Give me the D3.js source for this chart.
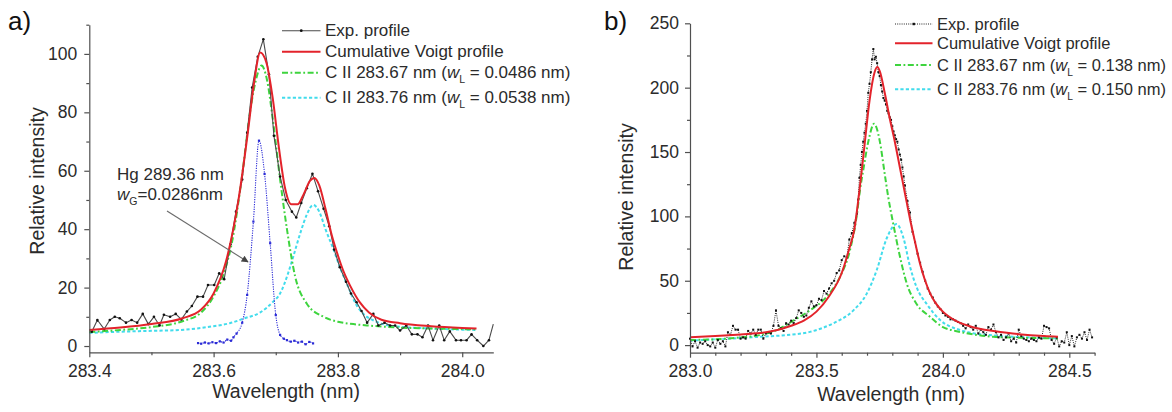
<!DOCTYPE html>
<html>
<head>
<meta charset="utf-8">
<script src="https://cdn.jsdelivr.net/npm/d3@7"></script>
<style>
  body { margin: 0; background: #fff; }
  svg { display: block; font-family: "Liberation Sans", Arial, Helvetica, sans-serif; }
</style>
</head>
<body>
<svg id="chart" width="1172" height="412"></svg>
<script>
// ---------- Panel a: C II doublet, narrow lines ----------
const expA = [
  [283.404,4.9],[283.413,8.9],[283.424,5.8],[283.433,8.9],[283.441,10],[283.449,9.5],[283.459,8],
  [283.468,8.9],[283.477,8],[283.486,11],[283.495,7.5],[283.504,10],[283.513,7],[283.520,10.7],
  [283.530,10],[283.539,11],[283.548,9.1],[283.557,11.8],[283.565,13.7],[283.574,16.9],[283.583,16.9],
  [283.591,20.9],[283.601,20.9],[283.609,24.9],[283.617,22.9],[283.627,34.8],[283.636,46],[283.646,57],
  [283.654,73],[283.662,88.5],[283.671,99],[283.680,105],[283.689,93],[283.697,72],[283.707,58],
  [283.716,50],[283.726,46],[283.733,44],[283.741,49],[283.750,54],[283.759,59],[283.768,53],
  [283.777,47],[283.786,41],[283.794,33],[283.803,27],[283.813,22],[283.821,18],[283.830,15],
  [283.838,12],[283.847,8],[283.857,11],[283.865,7],[283.875,8],[283.884,7],[283.892,7],[283.900,5.3],
  [283.910,7],[283.919,4],[283.928,4],[283.936,3],[283.945,7],[283.953,2],[283.963,7],[283.971,2],
  [283.980,5],[283.990,2],[283.998,2],[284.007,2],[284.015,4],[284.024,2],[284.034,0],[284.043,2]
];
const expATail = [[284.043,2],[284.050,7.5]];

const voigtA = [
  [283.400,5.5],[283.45,6.3],[283.50,7.5],[283.55,9.5],[283.58,12.5],[283.60,18],[283.62,29],
  [283.64,50],[283.655,73],[283.665,90],[283.675,100.5],[283.685,97],[283.695,85],[283.705,68],
  [283.715,54],[283.725,48.5],[283.735,48.5],[283.745,52],[283.755,56.5],[283.762,57.5],[283.77,55],
  [283.78,47],[283.79,38],[283.80,31],[283.81,25],[283.82,20.5],[283.835,15],[283.85,11.5],
  [283.87,9],[283.90,7.8],[283.95,6.8],[284.00,6.2],[284.023,6]
];

const line1A = [
  [283.400,4.8],[283.45,5.5],[283.50,6.5],[283.55,8.5],[283.58,11.5],[283.60,17],[283.615,24],
  [283.63,36],[283.645,57],[283.66,82],[283.668,91],[283.677,96],[283.686,91],[283.695,78],
  [283.707,57],[283.718,40],[283.731,24],[283.75,14.5],[283.777,10],[283.80,8.3],[283.825,7.5],
  [283.85,7],[283.90,6.3],[283.95,6],[284.00,5.8],[284.023,5.7]
];

const line2A = [
  [283.400,4.5],[283.45,4.9],[283.50,5.2],[283.546,5.5],[283.60,6.8],[283.626,7.8],[283.65,9.5],
  [283.675,11.5],[283.695,15],[283.707,18],[283.72,25],[283.728,30.5],[283.74,39],[283.75,45],
  [283.76,48.3],[283.77,46],[283.78,40],[283.793,33],[283.805,26],[283.814,21.5],[283.83,14],
  [283.841,11],[283.86,8.5],[283.889,6.8],[283.95,6],[284.00,5.6],[284.023,5.5]
];

const hgA = [
  [283.575,1.0],[283.580,0.8],[283.586,1.2],[283.592,0.9],[283.598,1.3],[283.604,1.0],[283.610,1.6],
  [283.616,1.2],[283.622,2.2],[283.628,1.8],[283.632,3.0],[283.637,4.3],[283.646,8],[283.654,17.5],
  [283.664,42.6],[283.673,70.3],[283.682,58.9],[283.691,35.2],[283.700,10.6],[283.707,3.8],
  [283.713,2.5],[283.718,2.0],[283.724,1.5],[283.730,1.8],[283.736,1.2],[283.742,1.5],[283.748,0.6],
  [283.754,1.4],[283.760,0.9]
];

// ---------- Panel b: C II doublet, broadened lines ----------
const expB = [
  [283.00,5],[283.01,-1],[283.02,3],[283.03,-2],[283.04,2],[283.05,1],[283.06,3],[283.07,0],[283.08,-1],
  [283.09,2],[283.10,-2],[283.11,4],[283.12,1],[283.13,3],[283.14,-1],[283.15,10],[283.16,8],[283.17,15],
  [283.18,12],[283.19,12],[283.20,5],[283.21,6],[283.22,5],[283.23,11],[283.24,9],[283.25,12],[283.26,8],
  [283.27,12],[283.28,12],[283.29,5],[283.30,9],[283.31,10],[283.32,9],[283.33,15],[283.34,27],[283.35,15],
  [283.36,13],[283.37,11],[283.38,17],[283.39,16],[283.40,19],[283.41,17],[283.42,21],[283.43,27],
  [283.44,25],[283.45,22],[283.46,23],[283.47,29],[283.48,34],[283.49,30],[283.50,31],[283.51,36],
  [283.52,35],[283.53,42],[283.54,40],[283.55,44],[283.56,48],[283.57,50],[283.58,56],[283.59,58],
  [283.60,66],[283.61,69],[283.62,68],[283.63,82],[283.64,87],[283.65,95],[283.66,102],[283.665,113],
  [283.67,130],[283.675,140],[283.68,150],[283.685,158],[283.69,165],[283.695,172],[283.70,182],
  [283.705,196],[283.71,203],[283.715,212],[283.72,222],[283.725,230],[283.73,222],[283.735,224],
  [283.74,219],[283.745,212],[283.75,209],[283.755,202],[283.76,197],[283.765,192],[283.77,190],
  [283.775,187],[283.78,182],[283.785,180],[283.79,177],[283.795,175],[283.80,170],[283.805,166],
  [283.81,163],[283.815,160],[283.82,158],[283.825,152],[283.83,148],[283.835,144],[283.84,138],
  [283.845,131],[283.85,124],[283.86,112],[283.87,103],[283.88,88],[283.89,80],[283.90,71],[283.91,64],
  [283.92,57],[283.93,50],[283.94,44],[283.95,40],[283.96,37],[283.97,33],[283.98,30],[283.99,28],
  [284.00,25],[284.01,23],[284.02,22],[284.03,20],[284.04,20],[284.05,19],[284.06,18],[284.07,17],
  [284.08,15],[284.09,13],[284.10,16],[284.11,14],[284.12,12],[284.13,15],[284.14,9],[284.15,12],
  [284.16,10],[284.17,8],[284.18,14],[284.19,12],[284.20,16],[284.21,10],[284.22,6],[284.23,8],
  [284.24,4],[284.25,6],[284.26,9],[284.27,3],[284.28,5],[284.29,2],[284.30,12],[284.31,7],[284.32,5],
  [284.33,4],[284.34,3],[284.35,5],[284.36,4],[284.37,3],[284.38,6],[284.39,5],[284.40,15],[284.41,14],
  [284.42,13],[284.43,4],[284.44,1],[284.45,6],[284.46,-1],[284.47,3],[284.48,2],[284.49,10],[284.50,0],
  [284.51,7],[284.52,-1],[284.53,6],[284.54,8],[284.55,5],[284.56,10],[284.57,4],[284.58,12],[284.59,6]
];

const voigtB = [
  [283.00,6],[283.10,7],[283.20,8.3],[283.30,10],[283.35,12],[283.40,15],[283.45,19],[283.50,26],
  [283.55,38],[283.60,56],[283.63,75],[283.65,90],[283.67,120],[283.69,155],[283.71,190],[283.73,212],
  [283.741,216],[283.75,213],[283.77,196],[283.79,176],[283.81,158],[283.83,138],[283.85,118],
  [283.87,98],[283.89,80],[283.91,63],[283.93,50],[283.95,40],[283.97,33],[284.00,26],[284.05,19],
  [284.10,15],[284.15,12.5],[284.20,11],[284.30,8.5],[284.40,7],[284.455,6.5]
];

const line1B = [
  [283.00,4],[283.10,4.5],[283.20,6],[283.277,7.8],[283.343,11.7],[283.408,19],[283.474,27],
  [283.54,37.5],[283.593,53],[283.633,74],[283.659,100],[283.672,120],[283.686,137],[283.705,158],
  [283.728,172],[283.75,159],[283.77,133],[283.784,115],[283.804,94],[283.83,69],[283.857,48],
  [283.896,32],[283.949,22],[284.00,14],[284.05,11],[284.10,9],[284.20,6.5],[284.30,5.8],[284.455,5.2]
];

const line2B = [
  [283.00,3.5],[283.10,4.5],[283.20,5.5],[283.277,6.5],[283.382,7.8],[283.474,10.3],[283.567,17],
  [283.646,27],[283.699,40],[283.738,58],[283.778,83],[283.817,94],[283.843,84],[283.87,61],
  [283.896,45],[283.936,32],[283.989,19.5],[284.068,11.7],[284.10,10],[284.20,7.5],[284.30,6.3],
  [284.455,5.2]
];

// ---------- Axis ticks ----------
const xMajorA = [283.4, 283.6, 283.8, 284.0];
const xMinorA = [283.5, 283.7, 283.9];
const yMajorA = [0, 20, 40, 60, 80, 100];
const yMinorA = [10, 30, 50, 70, 90, 110];
const xMajorB = [283.0, 283.5, 284.0, 284.5];
const xMinorB = [283.1, 283.2, 283.3, 283.4, 283.6, 283.7, 283.8, 283.9, 284.1, 284.2, 284.3, 284.4, 284.6];
const yMajorB = [0, 50, 100, 150, 200, 250];
const yMinorB = [25, 75, 125, 175, 225];

// ---------- Legend labels ----------
const legendA = ["Exp. profile", "Cumulative Voigt profile",
  ["C II 283.67 nm (", "0.0486 nm)"], ["C II 283.76 nm (", "0.0538 nm)"]];
const legendB = ["Exp. profile", "Cumulative Voigt profile",
  ["C II 283.67 nm (", "0.138 nm)"], ["C II 283.76 nm (", "0.150 nm)"]];

// ---------- Styles ----------
const C = {
  axis: "#505050", text: "#2b2b2b",
  exp: "#4a4a4a", red: "#e3232b", green: "#3ed43e", cyan: "#42dcec", blue: "#2a2ad6"
};
const styles = {
  expA:  { stroke: C.exp, width: 1.1, dash: null },
  expB:  { stroke: "#222", width: 1, dash: "1,1.2" },
  red:   { stroke: C.red, width: 2, dash: null },
  green: { stroke: C.green, width: 2, dash: "6,2.5,1.8,2.5" },
  cyan:  { stroke: C.cyan, width: 2, dash: "3.2,2.2" },
  blue:  { stroke: C.blue, width: 1.1, dash: "1.2,1.2" }
};

const svg = d3.select("#chart");

function drawAxes(g, x, y, xMaj, xMin, yMaj, yMin, xFmt, yPad) {
  const yBase = y.range()[0];
  const xBase = x.range()[0];
  // minor ticks
  g.append("g").attr("transform", `translate(0,${yBase})`)
    .call(d3.axisBottom(x).tickValues(xMin).tickSize(3).tickSizeOuter(0).tickFormat(""))
    .call(s => s.select(".domain").remove());
  g.append("g").attr("transform", `translate(${xBase},0)`)
    .call(d3.axisLeft(y).tickValues(yMin).tickSize(3).tickSizeOuter(0).tickFormat(""))
    .call(s => s.select(".domain").remove());
  // major ticks + labels
  g.append("g").attr("transform", `translate(0,${yBase})`)
    .call(d3.axisBottom(x).tickValues(xMaj).tickSize(5).tickPadding(7).tickSizeOuter(0).tickFormat(xFmt));
  g.append("g").attr("transform", `translate(${xBase},0)`)
    .call(d3.axisLeft(y).tickValues(yMaj).tickSize(5).tickPadding(yPad).tickSizeOuter(0).tickFormat(d3.format("d")));
  g.selectAll(".domain, .tick line").attr("stroke", C.axis).attr("stroke-width", 1.2);
  g.selectAll(".tick text").attr("fill", C.text).attr("font-size", 17.5)
    .attr("font-family", '"Liberation Sans", Arial, sans-serif');
}

function drawLine(g, data, x, y, st, curve) {
  const gen = d3.line().x(d => x(d[0])).y(d => y(d[1])).curve(curve || d3.curveLinear);
  g.append("path").datum(data).attr("d", gen)
    .attr("fill", "none").attr("stroke", st.stroke).attr("stroke-width", st.width)
    .attr("stroke-dasharray", st.dash).attr("stroke-linejoin", "round");
}

function drawLegend(g, labels, x0, x1, lineYs, fontSize, expSt, expMarker) {
  const sts = [expSt, styles.red, styles.green, styles.cyan];
  labels.forEach((lab, i) => {
    const ly = lineYs[i];
    g.append("line").attr("x1", x0).attr("x2", x1).attr("y1", ly).attr("y2", ly)
      .attr("stroke", sts[i].stroke).attr("stroke-width", sts[i].width)
      .attr("stroke-dasharray", sts[i].dash);
    if (i === 0) expMarker(g, (x0 + x1) / 2, ly);
    const t = g.append("text").attr("x", x1 + 4.5).attr("y", ly + 5.5)
      .attr("font-size", fontSize).attr("fill", C.text);
    if (typeof lab === "string") {
      t.text(lab);
    } else {
      t.append("tspan").text(lab[0]);
      t.append("tspan").attr("font-style", "italic").text("w");
      t.append("tspan").attr("dy", 5).attr("font-size", fontSize * 0.62).text("L");
      t.append("tspan").attr("dy", -5).text(" = " + lab[1]);
    }
  });
}

// ================= Panel a =================
{
  const g = svg.append("g");
  const x = d3.scaleLinear().domain([283.4, 284.05]).range([89.3, 493.3]);
  const y = d3.scaleLinear().domain([-2.15, 110]).range([352.3, 24.7]);

  drawLine(g, line2A, x, y, styles.cyan, d3.curveMonotoneX);
  drawLine(g, line1A, x, y, styles.green, d3.curveMonotoneX);
  drawLine(g, expA.concat(expATail.slice(1)), x, y, styles.expA);
  g.append("g").selectAll("circle").data(expA).join("circle")
    .attr("cx", d => x(d[0])).attr("cy", d => y(d[1])).attr("r", 1.3).attr("fill", "#111");
  drawLine(g, voigtA, x, y, styles.red, d3.curveMonotoneX);
  drawLine(g, hgA, x, y, styles.blue, d3.curveMonotoneX);
  g.append("g").selectAll("rect").data(hgA).join("rect")
    .attr("x", d => x(d[0]) - 1.1).attr("y", d => y(d[1]) - 1.1)
    .attr("width", 2.2).attr("height", 2.2).attr("fill", C.blue);

  drawAxes(g, x, y, xMajorA, xMinorA, yMajorA, yMinorA, d3.format(".1f"), 7);

  // Hg annotation with arrow
  const defs = svg.append("defs");
  defs.append("marker").attr("id", "arrowHead").attr("viewBox", "0 0 10 10")
    .attr("refX", 9).attr("refY", 5).attr("markerWidth", 9).attr("markerHeight", 7)
    .attr("markerUnits", "userSpaceOnUse").attr("orient", "auto")
    .append("path").attr("d", "M0,0 L10,5 L0,10 Z").attr("fill", "#444");
  g.append("line").attr("x1", 167).attr("y1", 211).attr("x2", 248).attr("y2", 262)
    .attr("stroke", "#6a6a6a").attr("stroke-width", 1.1).attr("marker-end", "url(#arrowHead)");
  g.append("text").attr("x", 117).attr("y", 180).attr("font-size", 17).attr("fill", C.text)
    .text("Hg 289.36 nm");
  const wt = g.append("text").attr("x", 117).attr("y", 200).attr("font-size", 17).attr("fill", C.text);
  wt.append("tspan").attr("font-style", "italic").text("w");
  wt.append("tspan").attr("dy", 5).attr("font-size", 10.5).text("G");
  wt.append("tspan").attr("dy", -5).text("=0.0286nm");

  // titles
  g.append("text").attr("transform", "translate(43.5,181) rotate(-90)").attr("text-anchor", "middle")
    .attr("font-size", 19.5).attr("fill", C.text).text("Relative intensity");
  g.append("text").attr("x", 286).attr("y", 398).attr("text-anchor", "middle")
    .attr("font-size", 19.5).attr("fill", C.text).text("Wavelength (nm)");
  g.append("text").attr("x", 8).attr("y", 30).attr("font-size", 26).attr("fill", "#111").text("a)");

  drawLegend(g, legendA, 282, 320.5, [30.7, 51.7, 72.7, 97.7], 17, styles.expA,
    (gg, cx, cy) => gg.append("circle").attr("cx", cx).attr("cy", cy).attr("r", 1.4).attr("fill", "#111"));
}

// ================= Panel b =================
{
  const g = svg.append("g");
  const x = d3.scaleLinear().domain([283.0, 284.6]).range([690, 1094.6]);
  const y = d3.scaleLinear().domain([-5.9, 250]).range([352.7, 23.3]);

  drawLine(g, line2B, x, y, styles.cyan, d3.curveMonotoneX);
  drawLine(g, line1B, x, y, styles.green, d3.curveMonotoneX);
  drawLine(g, expB, x, y, styles.expB);
  g.append("g").selectAll("rect").data(expB).join("rect")
    .attr("x", d => x(d[0]) - 1).attr("y", d => y(d[1]) - 1)
    .attr("width", 2).attr("height", 2).attr("fill", "#111");
  drawLine(g, voigtB, x, y, styles.red, d3.curveMonotoneX);

  drawAxes(g, x, y, xMajorB, xMinorB, yMajorB, yMinorB, d3.format(".1f"), 6);

  g.append("text").attr("transform", "translate(632.5,197) rotate(-90)").attr("text-anchor", "middle")
    .attr("font-size", 19.5).attr("fill", C.text).text("Relative intensity");
  g.append("text").attr("x", 891).attr("y", 401).attr("text-anchor", "middle")
    .attr("font-size", 19.5).attr("fill", C.text).text("Wavelength (nm)");
  g.append("text").attr("x", 604).attr("y", 30).attr("font-size", 26).attr("fill", "#111").text("b)");

  drawLegend(g, legendB, 895, 932.5, [24, 43.3, 65, 89.3], 16.5, styles.expB,
    (gg, cx, cy) => gg.append("rect").attr("x", cx - 1.2).attr("y", cy - 1.2)
      .attr("width", 2.4).attr("height", 2.4).attr("fill", "#111"));
}
</script>
</body>
</html>
